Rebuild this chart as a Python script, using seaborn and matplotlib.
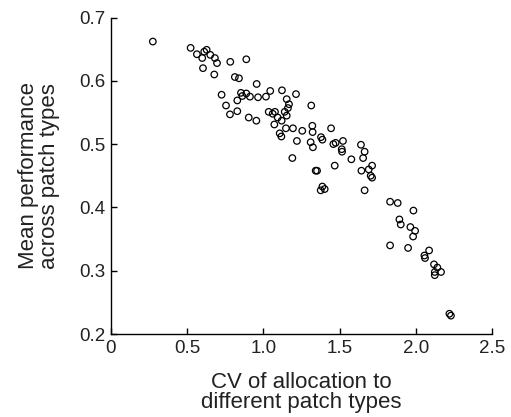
import pandas as pd
import matplotlib
matplotlib.use("Agg")
import matplotlib.pyplot as plt
import seaborn as sns

# CV of allocation (x) and mean performance (y)
cv = [0.275, 0.523, 0.564, 0.599, 0.612, 0.628, 0.652, 0.682, 0.696, 0.604,
      0.678, 0.783, 0.888, 0.813, 0.840, 0.956, 0.726, 0.755, 0.781, 0.829,
      0.829, 0.853, 0.862, 0.888, 0.912, 0.965, 0.904, 0.954, 1.017, 1.045,
      1.122, 1.214, 1.153, 1.168, 1.161, 1.140, 1.035, 1.061, 1.076, 1.094,
      1.120, 1.153, 1.072, 1.148, 1.194, 1.255, 1.107, 1.118, 1.220, 1.190,
      1.314, 1.321, 1.323, 1.310, 1.325, 1.378, 1.387, 1.444, 1.459, 1.474,
      1.522, 1.514, 1.516, 1.468, 1.343, 1.352, 1.376, 1.387, 1.402, 1.577,
      1.640, 1.664, 1.654, 1.643, 1.664, 1.713, 1.691, 1.704, 1.713, 1.831,
      1.881, 1.984, 1.892, 1.901, 1.964, 1.995, 1.982, 1.831, 1.949, 2.087,
      2.056, 2.060, 2.119, 2.141, 2.165, 2.124, 2.124, 2.220, 2.230]
perf = [0.662, 0.652, 0.642, 0.636, 0.646, 0.649, 0.641, 0.636, 0.628, 0.620,
        0.610, 0.630, 0.634, 0.606, 0.604, 0.595, 0.578, 0.561, 0.547, 0.552,
        0.569, 0.581, 0.576, 0.580, 0.575, 0.574, 0.542, 0.537, 0.575, 0.584,
        0.585, 0.579, 0.571, 0.563, 0.557, 0.551, 0.551, 0.548, 0.551, 0.542,
        0.537, 0.545, 0.531, 0.525, 0.525, 0.521, 0.517, 0.512, 0.505, 0.478,
        0.561, 0.529, 0.519, 0.503, 0.495, 0.511, 0.507, 0.525, 0.500, 0.502,
        0.505, 0.492, 0.488, 0.466, 0.458, 0.458, 0.427, 0.433, 0.429, 0.476,
        0.499, 0.488, 0.478, 0.458, 0.427, 0.466, 0.460, 0.450, 0.447, 0.409,
        0.407, 0.395, 0.381, 0.373, 0.369, 0.363, 0.354, 0.340, 0.336, 0.332,
        0.324, 0.320, 0.310, 0.305, 0.298, 0.298, 0.293, 0.232, 0.229]

xticks = [0, 0.5, 1.0, 1.5, 2.0, 2.5]
xticklabels = ["0", "0.5", "1.0", "1.5", "2.0", "2.5"]
yticks = [0.2, 0.3, 0.4, 0.5, 0.6, 0.7]
yticklabels = ["0.2", "0.3", "0.4", "0.5", "0.6", "0.7"]

df = pd.DataFrame({"cv": cv, "perf": perf})

sns.set_style("ticks")
plt.rcParams["font.family"] = ["Liberation Sans", "DejaVu Sans"]

fig = plt.figure(figsize=(5.11, 4.17), dpi=100)
ax = fig.add_axes([0.217, 0.199, 0.746, 0.759])

sns.scatterplot(data=df, x="cv", y="perf", ax=ax, marker="o", s=22,
                facecolors="none", edgecolor="black", linewidth=0.9)

ax.set_xlim(0, 2.5)
ax.set_ylim(0.2, 0.7)
ax.set_xticks(xticks)
ax.set_xticklabels(xticklabels)
ax.set_yticks(yticks)
ax.set_yticklabels(yticklabels)
ax.tick_params(direction="in", length=4, width=1, labelsize=13.5,
               colors="black", labelcolor="#222222", pad=4)
sns.despine(ax=ax)
for sp in ["left", "bottom"]:
    ax.spines[sp].set_linewidth(1)
    ax.spines[sp].set_color("black")

ax.set_xlabel("CV of allocation to\ndifferent patch types", fontsize=16,
              labelpad=11, linespacing=0.95, color="#222222")
ax.set_ylabel("Mean performance\nacross patch types", fontsize=16,
              labelpad=14, linespacing=0.95, color="#222222")

fig.savefig("out.png", dpi=100)
